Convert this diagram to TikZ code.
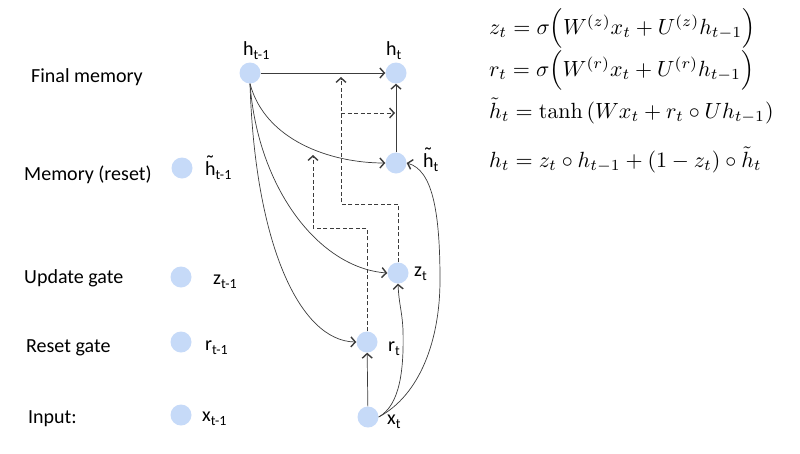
\documentclass[tikz,border=0pt]{standalone}
\usepackage{amsmath}
\usepackage[no-math]{fontspec}
\setmainfont{Carlito}
\usetikzlibrary{arrows.meta}
\definecolor{nodeblue}{RGB}{198,218,248}
\definecolor{linegray}{RGB}{60,60,60}
\newcommand\subl[1]{\raisebox{-4pt}{\fontsize{14}{14}\selectfont #1}}
\newcommand\lbl[2]{#1\subl{#2}}
\newcommand\tlbl[2]{\rlap{\raisebox{4.5pt}{\fontsize{22}{22}\selectfont\char"02DC}}#1\subl{#2}}
\newcommand\eqsc[1]{\scalebox{2.2}{#1}}
\tikzset{
  unit/.style={circle,fill=nodeblue,minimum size=21pt,inner sep=0pt},
  txt/.style={anchor=base west,inner sep=0pt,font=\fontsize{20}{24}\selectfont},
  sym/.style={anchor=base west,inner sep=0pt,font=\fontsize{20}{24}\selectfont},
  eqn/.style={anchor=base west,inner sep=0pt},
  arr/.style={-{Straight Barb[length=4.5pt,width=10pt,line width=1.4pt]},draw=linegray,line width=0.7pt},
  dsh/.style={dash pattern=on 4pt off 2.5pt,line width=0.8pt,draw=linegray}
}
\begin{document}
\begin{tikzpicture}[x=1pt,y=-1pt]
\useasboundingbox (0,0) rectangle (800,453);
% left labels
\node[txt] (l1) at (31,82) {Final memory};
\node[txt] (l2) at (24,180) {Memory (reset)};
\node[txt] (l3) at (24,283) {Update gate};
\node[txt] (l4) at (26,352) {Reset gate};
\node[txt] (l5) at (28,423) {Input:};
% left column circles
\node[unit] (hp2) at (182,168) {};
\node[unit] (zp) at (181,277) {};
\node[unit] (rp) at (181,342) {};
\node[unit] (xp) at (181,415) {};
\node[sym] (lhp2) at (205,175) {\tlbl{h}{t-1}};
\node[sym] (lzp) at (213,284) {\lbl{z}{t-1}};
\node[sym] (lrp) at (205,350) {\lbl{r}{t-1}};
\node[sym] (lxp) at (202,421) {\lbl{x}{t-1}};
% main circles
\node[unit] (hp) at (250,73) {};
\node[unit] (ht) at (396,73) {};
\node[unit] (htil) at (396,163) {};
\node[unit] (zt) at (398,273) {};
\node[unit] (rt) at (367,342) {};
\node[unit] (xt) at (368,417) {};
\node[sym] (lhp) at (243,55) {\lbl{h}{t-1}};
\node[sym] (lht) at (386,55) {\lbl{h}{t}};
\node[sym] (lhtil) at (423,167) {\tlbl{h}{t}};
\node[sym] (lzt) at (414,276) {\lbl{z}{t}};
\node[sym] (lrt) at (388,351) {\lbl{r}{t}};
\node[sym] (lxt) at (387,424) {\lbl{x}{t}};
% coordinates for dashed paths
\coordinate (za) at (398,204);
\coordinate (zb) at (341,204);
\coordinate (zc) at (341,77);
\coordinate (zd) at (341,113);
\coordinate (ze) at (395,113);
\coordinate (ra) at (367,228);
\coordinate (rb) at (313,228);
\coordinate (rc) at (313,155);
% solid connectors
\draw[arr] (hp) -- (ht);
\draw[arr] (htil) -- (ht);
\draw[arr] (xt) -- (rt);
\draw[arr] (hp.south) .. controls (265,140) and (330,163) .. (htil.west);
\draw[arr] (hp.south) .. controls (258,190) and (320,268) .. (zt.west);
\draw[arr] (hp.south) .. controls (255,245) and (300,341) .. (rt.west);
\draw[arr] (xt.east) .. controls (400,405) and (404,370) .. (403,330) .. controls (402,310) and (399,305) .. (zt.south);
\draw[arr] (xt.east) .. controls (420,395) and (440,340) .. (440,280) .. controls (440,210) and (432,170) .. (htil.east);
% dashed connectors
\draw[dsh,arr,dash pattern=on 4pt off 2.5pt] (zt.north) -- (za) -- (zb) -- (zc);
\draw[dsh,arr,dash pattern=on 4pt off 2.5pt] (zd) -- (ze);
\draw[dsh,arr,dash pattern=on 4pt off 2.5pt] (rt.north) -- (ra) -- (rb) -- (rc);
% equations
\node[eqn] (e1) at (489,34) {\eqsc{$z_t=\sigma\Big(W^{(z)}x_t+U^{(z)}h_{t-1}\Big)$}};
\node[eqn] (e2) at (489,76) {\eqsc{$r_t=\sigma\Big(W^{(r)}x_t+U^{(r)}h_{t-1}\Big)$}};
\node[eqn] (e3) at (489,118) {\eqsc{$\tilde h_t=\tanh\left(Wx_t+r_t\circ Uh_{t-1}\right)$}};
\node[eqn] (e4) at (489,167) {\eqsc{$h_t=z_t\circ h_{t-1}+(1-z_t)\circ\tilde h_t$}};
\end{tikzpicture}
\end{document}
